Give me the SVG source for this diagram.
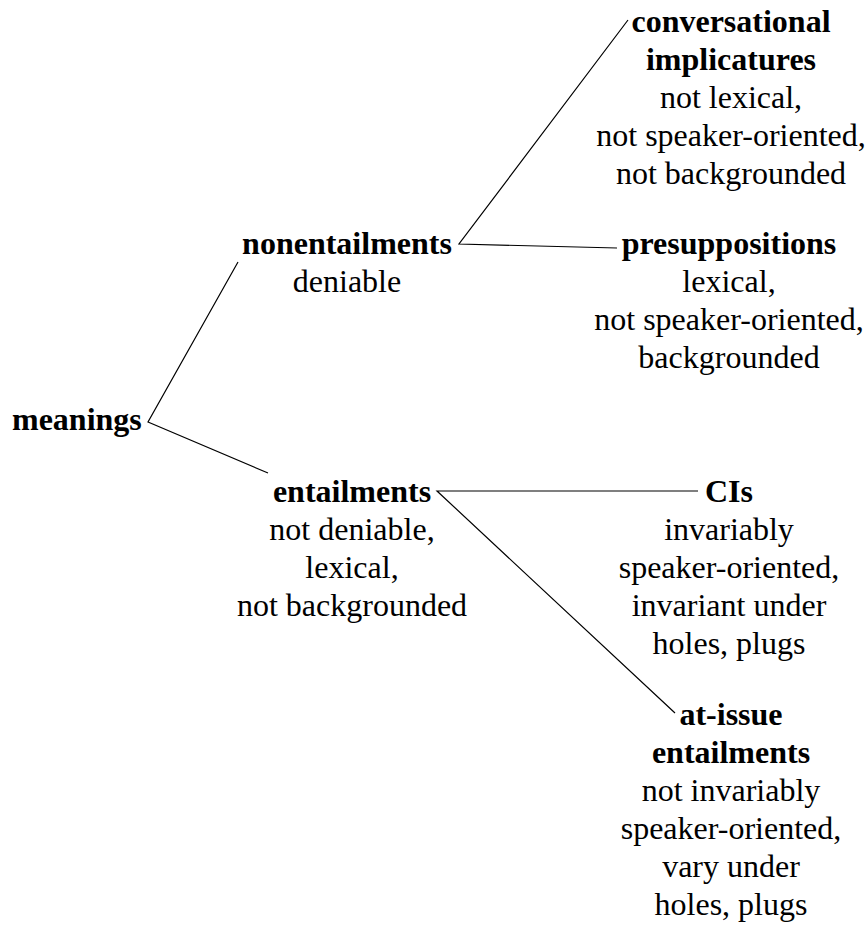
<svg xmlns="http://www.w3.org/2000/svg" width="868" height="928" viewBox="0 0 868 928">
  <style>
    text { font-family: "Liberation Serif", "Times New Roman", serif; font-size: 32px; fill: #000; text-anchor: middle; }
    .h { font-weight: bold; }
    .edge { stroke: #000; stroke-width: 1.2; fill: none; }
  </style>
  <rect width="868" height="928" fill="#fff"/>

  <g id="connectors">
    <polyline class="edge" points="238,262 148,422 268,473"/>
    <polyline class="edge" points="628,20 459,244 617,248"/>
    <polyline class="edge" points="698,491 437,491 675,713"/>
  </g>

  <g id="meanings">
    <text class="h" x="12" y="430" style="text-anchor:start">meanings</text>
  </g>

  <g id="nonentailments">
    <text class="h" x="347" y="254">nonentailments</text>
    <text x="347" y="292">deniable</text>
  </g>

  <g id="entailments">
    <text class="h" x="352" y="502">entailments</text>
    <text x="352" y="540">not deniable,</text>
    <text x="352" y="578">lexical,</text>
    <text x="352" y="616">not backgrounded</text>
  </g>

  <g id="conversational-implicatures">
    <text class="h" x="731" y="32">conversational</text>
    <text class="h" x="731" y="70">implicatures</text>
    <text x="731" y="108">not lexical,</text>
    <text x="731" y="146">not speaker-oriented,</text>
    <text x="731" y="184">not backgrounded</text>
  </g>

  <g id="presuppositions">
    <text class="h" x="729" y="254">presuppositions</text>
    <text x="729" y="292">lexical,</text>
    <text x="729" y="330">not speaker-oriented,</text>
    <text x="729" y="368">backgrounded</text>
  </g>

  <g id="cis">
    <text class="h" x="729" y="502">CIs</text>
    <text x="729" y="540">invariably</text>
    <text x="729" y="578">speaker-oriented,</text>
    <text x="729" y="616">invariant under</text>
    <text x="729" y="654">holes, plugs</text>
  </g>

  <g id="at-issue-entailments">
    <text class="h" x="731" y="725">at-issue</text>
    <text class="h" x="731" y="763">entailments</text>
    <text x="731" y="801">not invariably</text>
    <text x="731" y="839">speaker-oriented,</text>
    <text x="731" y="877">vary under</text>
    <text x="731" y="915">holes, plugs</text>
  </g>
</svg>
